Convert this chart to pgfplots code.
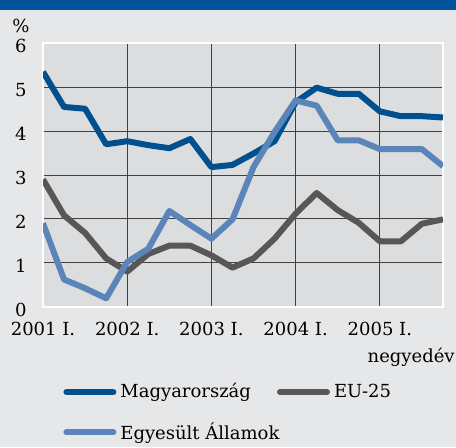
\documentclass[border=0pt]{standalone}
\usepackage{fontspec}
\setmainfont{DejaVu Serif}
\usepackage{pgfplots}
\pgfplotsset{compat=1.18}
\definecolor{bg}{HTML}{E6E7E9}
\definecolor{plotbg}{HTML}{DCDDDF}
\definecolor{hu}{HTML}{00508F}
\definecolor{eu}{HTML}{575757}
\definecolor{us}{HTML}{5B85B8}
\definecolor{titlebar}{HTML}{00559A}
\begin{document}
\fontsize{9}{11}\selectfont
\begin{tikzpicture}[x=0.5pt,y=0.5pt]
\fill[bg] (0,0) rectangle (456,447);
\fill[titlebar] (0,437.5) rectangle (456,447);
\begin{axis}[
  at={(21.5pt,70.15pt)}, anchor=south west,
  scale only axis, width=200pt, height=131.7pt,
  xmin=0, xmax=19, ymin=0, ymax=6,
  /pgf/number format/assume math mode=true,
  axis background/.style={fill=plotbg},
  axis line style={white, line width=1pt},
  xtick={0,4,8,12,16},
  xticklabels={2001 I., 2002 I., 2003 I., 2004 I., 2005 I.},
  ytick={0,1,2,3,4,5,6},
  major tick length=0pt,
  grid=major,
  major grid style={black!75, line width=0.5pt},
  ticklabel style={font=\fontsize{9}{11}\selectfont},
  xticklabel style={yshift=-4.5pt},
  yticklabel style={xshift=-5pt, yshift=-1.5pt},
  legend columns=2,
  legend cell align=left,
  legend style={at={(0.05,-0.275)}, anchor=north west, draw=none, fill=none,
    inner sep=0pt, row sep=7pt, font=\fontsize{9}{11}\selectfont,
    /tikz/every even column/.append style={column sep=11pt}},
  legend image code/.code={\draw[#1, line cap=round] (0pt,0pt) -- (23.5pt,0pt);},
  every axis plot/.append style={line width=3pt, line join=round},
]
\addplot[hu] coordinates {
(0,5.35) (1,4.55) (2,4.51) (3,3.70) (4,3.77) (5,3.68) (6,3.61) (7,3.82)
(8,3.18) (9,3.23) (10,3.49) (11,3.77) (12,4.66) (13,4.99) (14,4.85) (15,4.85)
(16,4.45) (17,4.34) (18,4.34) (19,4.31)};
\addlegendentry{Magyarország}
\addplot[eu] coordinates {
(0,2.90) (1,2.08) (2,1.68) (3,1.10) (4,0.80) (5,1.20) (6,1.39) (7,1.39)
(8,1.17) (9,0.89) (10,1.10) (11,1.55) (12,2.12) (13,2.59) (14,2.20) (15,1.91)
(16,1.49) (17,1.49) (18,1.89) (19,1.99)};
\addlegendentry{EU-25}
\addplot[us] coordinates {
(0,1.90) (1,0.62) (2,0.42) (3,0.19) (4,1.02) (5,1.32) (6,2.18) (7,1.86)
(8,1.55) (9,1.99) (10,3.18) (11,3.98) (12,4.70) (13,4.58) (14,3.79) (15,3.79)
(16,3.59) (17,3.59) (18,3.59) (19,3.20)};
\addlegendentry{\makebox[0pt][l]{Egyesült Államok}}
\end{axis}
\node at (21,421) {\%};
\node[anchor=east, inner sep=0pt] at (455,90) {negyedév};
\end{tikzpicture}
\end{document}
